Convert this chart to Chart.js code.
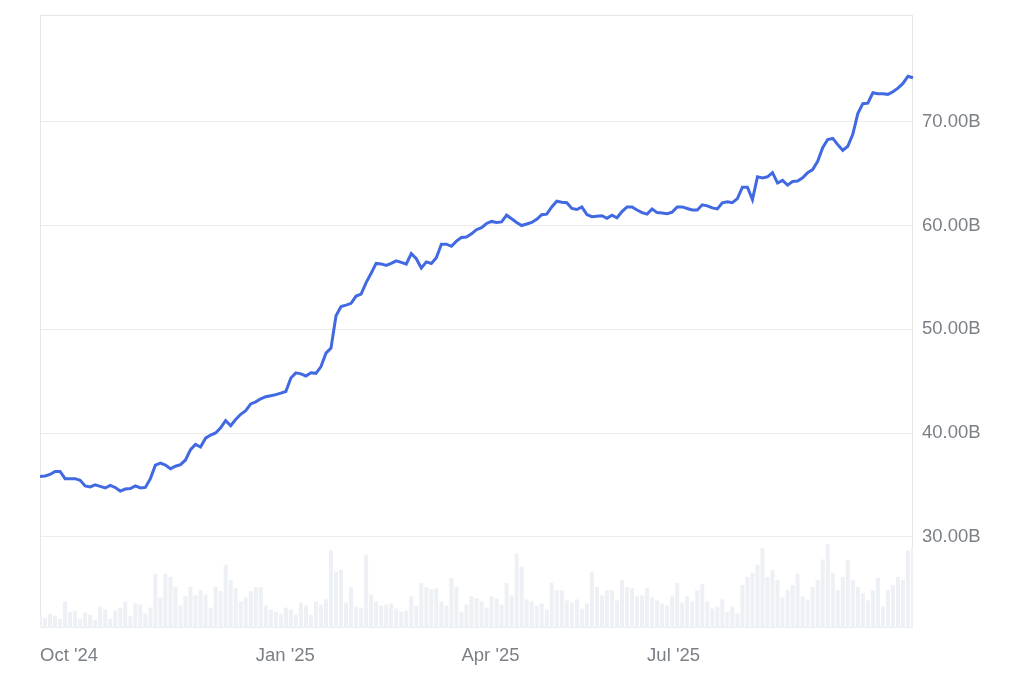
<!DOCTYPE html>
<html>
<head>
<meta charset="utf-8">
<script src="https://cdn.jsdelivr.net/npm/chart.js@4.4.1/dist/chart.umd.min.js"></script>
<style>
    body { margin: 0; background: #fff; }
</style>
</head>
<body>
<canvas id="myChart" width="1024" height="683"></canvas>
<script>
// market cap in billions, one point about every two days
const marketCap = [
    35.8, 35.85, 36.0, 36.3, 36.3, 35.6, 35.6, 35.6, 35.45, 34.9,
    34.8, 35.0, 34.85, 34.7, 34.95, 34.75, 34.4, 34.6, 34.65, 34.9,
    34.7, 34.75, 35.6, 36.9, 37.1, 36.9, 36.55, 36.8, 36.95, 37.4,
    38.4, 38.9, 38.65, 39.5, 39.8, 40.0, 40.5, 41.2, 40.7, 41.3,
    41.8, 42.15, 42.8, 43.0, 43.3, 43.5, 43.6, 43.7, 43.85, 44.0,
    45.3, 45.8, 45.7, 45.5, 45.8, 45.75, 46.4, 47.7, 48.2, 51.3,
    52.2, 52.33, 52.5, 53.2, 53.4, 54.5, 55.4, 56.35, 56.3, 56.15,
    56.35, 56.6, 56.45, 56.28, 57.3, 56.8, 55.9, 56.5, 56.35, 56.9,
    58.2, 58.2, 58.0, 58.5, 58.85, 58.9, 59.2, 59.6, 59.8, 60.2,
    60.4, 60.3, 60.35, 61.0, 60.65, 60.3, 60.0, 60.15, 60.3, 60.6,
    61.05, 61.1, 61.8, 62.35, 62.25, 62.2, 61.65, 61.55, 61.8, 61.05,
    60.85, 60.9, 60.95, 60.7, 61.0, 60.75, 61.35, 61.8, 61.8, 61.5,
    61.25, 61.1, 61.6, 61.25, 61.2, 61.15, 61.3, 61.8, 61.8, 61.65,
    61.5, 61.5, 62.0, 61.9, 61.7, 61.6, 62.2, 62.3, 62.2, 62.6,
    63.7, 63.7, 62.5, 64.7, 64.6, 64.7, 65.1, 64.1, 64.35, 63.9,
    64.25, 64.3, 64.6, 65.1, 65.4, 66.2, 67.5, 68.3, 68.4, 67.8,
    67.25, 67.65, 68.8, 70.8, 71.75, 71.8, 72.8, 72.7, 72.7, 72.65,
    72.9, 73.25, 73.7, 74.4, 74.25
];

// trading volume, same points
const volume = [
    1.3, 1.0, 1.4, 1.2, 0.9, 2.6, 1.6, 1.7, 0.9, 1.5,
    1.3, 0.8, 2.1, 1.8, 0.9, 1.7, 2.0, 2.6, 1.2, 2.4,
    2.3, 1.4, 2.0, 5.3, 3.0, 5.3, 5.0, 4.0, 2.2, 3.1,
    4.0, 3.2, 3.7, 3.3, 2.0, 4.0, 3.6, 6.2, 4.7, 3.9,
    2.6, 3.0, 3.6, 4.0, 4.0, 2.2, 1.8, 1.6, 1.4, 2.0,
    1.8, 1.3, 2.5, 2.2, 1.3, 2.6, 2.3, 2.8, 7.6, 5.5,
    5.7, 2.5, 4.0, 2.1, 2.0, 7.2, 3.3, 2.6, 2.2, 2.3,
    2.4, 1.9, 1.6, 1.7, 3.1, 2.2, 4.4, 4.0, 3.8, 3.9,
    2.6, 2.2, 4.9, 4.0, 1.6, 2.3, 3.1, 2.9, 2.6, 2.0,
    3.1, 2.9, 2.3, 4.4, 3.2, 7.3, 6.0, 2.8, 2.6, 2.2,
    2.4, 1.8, 4.4, 3.7, 3.7, 2.7, 2.5, 2.8, 1.9, 2.4,
    5.5, 4.0, 3.2, 3.7, 3.7, 2.7, 4.7, 4.0, 3.9, 3.1,
    3.2, 3.9, 3.0, 2.7, 2.4, 2.2, 3.1, 4.4, 2.5, 3.1,
    2.6, 3.7, 4.3, 2.6, 1.9, 2.1, 2.8, 1.6, 2.1, 1.4,
    4.2, 5.0, 5.4, 6.2, 7.8, 5.0, 5.7, 4.7, 3.0, 3.7,
    4.2, 5.3, 3.1, 2.8, 4.0, 4.7, 6.7, 8.2, 5.4, 3.7,
    5.0, 6.7, 4.7, 4.0, 3.4, 2.7, 3.7, 4.9, 2.1, 3.7,
    4.2, 5.0, 4.7, 7.6, 7.9
];

const tickLabels = ["Oct '24", "Jan '25", "Apr '25", "Jul '25"];
const tickIndex = [0, 43, 84, 121];
const yTicks = [30, 40, 50, 60, 70];

const labels = marketCap.map(function(v, i) {
    var k = tickIndex.indexOf(i);
    return k == -1 ? "" : tickLabels[k];
});

const labelFont = { family: "'Liberation Sans', Arial, sans-serif", size: 18.5 };
const labelColor = '#7b7f86';

// light frame around the plot area
const framePlugin = {
    id: 'frame',
    beforeDatasetsDraw(chart) {
        const a = chart.chartArea;
        const ctx = chart.ctx;
        ctx.save();
        ctx.strokeStyle = '#e6e6e6';
        ctx.lineWidth = 1;
        ctx.strokeRect(a.left + 0.5, a.top + 0.5, a.right - a.left - 1, a.bottom - a.top - 1);
        ctx.restore();
    }
};

const config = {
    data: {
        labels: labels,
        datasets: [
            {
                type: 'line',
                data: marketCap,
                yAxisID: 'y',
                borderColor: '#4169e1',
                borderWidth: 3,
                pointRadius: 0,
                tension: 0,
                order: 0,
            },
            {
                type: 'bar',
                data: volume,
                yAxisID: 'yv',
                backgroundColor: '#edf0f4',
                barPercentage: 0.8,
                categoryPercentage: 1,
                order: 1,
            }
        ]
    },
    options: {
        responsive: false,
        animation: false,
        layout: { padding: { top: 15, left: 40 } },
        plugins: {
            legend: { display: false },
            tooltip: { enabled: false },
        },
        scales: {
            x: {
                offset: false,
                grid: { display: false, drawTicks: false },
                border: { display: false },
                ticks: {
                    autoSkip: false,
                    maxRotation: 0,
                    align: 'start',
                    padding: 17,
                    color: labelColor,
                    font: labelFont,
                },
                afterFit: function(scale) {
                    scale.height = 55;
                    scale.paddingLeft = 0;
                    scale.paddingRight = 0;
                },
            },
            y: {
                position: 'right',
                min: 21.2,
                max: 80.3,
                grid: { color: '#ececec', drawTicks: false },
                border: { display: false },
                afterBuildTicks: function(scale) {
                    scale.ticks = yTicks.map(function(v) { return { value: v }; });
                },
                ticks: {
                    padding: 9,
                    color: labelColor,
                    font: labelFont,
                    callback: function(v) { return v.toFixed(2) + 'B'; },
                },
                afterFit: function(scale) {
                    scale.width = 111;
                    scale.paddingTop = 0;
                    scale.paddingBottom = 0;
                },
            },
            yv: {
                display: false,
                min: 0,
                max: 60,
            }
        }
    },
    plugins: [framePlugin],
};

const myChart = new Chart(document.getElementById('myChart'), config);
</script>
</body>
</html>
